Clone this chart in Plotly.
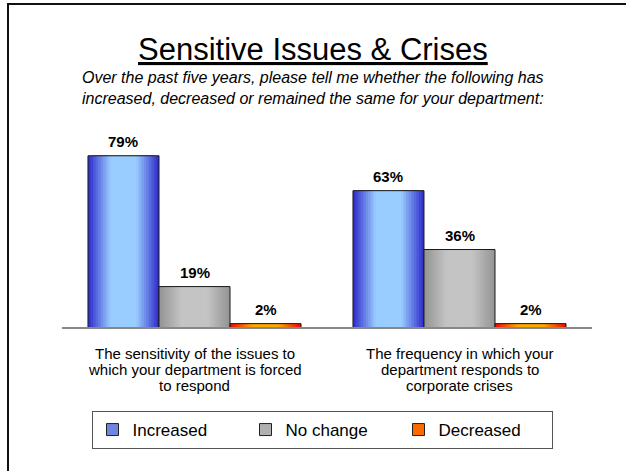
import plotly.graph_objects as go

# ---- data ----
category_lines = [
    ["The sensitivity of the issues to", "which your department is forced", "to respond"],
    ["The frequency in which your", "department responds to", "corporate crises"],
]
series_names = ["Increased", "No change", "Decreased"]
increased = [79, 63]
no_change = [19, 36]
decreased = [2, 2]
series_values = [increased, no_change, decreased]

W, H = 626, 471
FONT = "Liberation Sans, Arial, sans-serif"

# gradient colours: (edge, centre)
grad = [((0x33, 0x33, 0xcc), (0x99, 0xcc, 0xff)),
        ((0x96, 0x96, 0x96), (0xc4, 0xc4, 0xc4)),
        ((0xee, 0x10, 0x00), (0xff, 0xa8, 0x00))]
legend_col = ["#6f86e0", "#b0b0b0", "#ff6a00"]

def mix(a, b, t):
    return "rgb(%d,%d,%d)" % tuple(round(a[i] + (b[i] - a[i]) * t) for i in range(3))

bw = 0.268          # bar width in category units
n_layers = 14
fig = go.Figure()

# legend entries
for j, name in enumerate(series_names):
    fig.add_trace(go.Bar(x=[None], y=[None], name=name,
                         marker=dict(color=legend_col[j], line=dict(color="#222", width=1))))

for j, vals in enumerate(series_values):
    xs = [i + (j - 1) * bw for i in range(len(category_lines))]
    edge, centre = grad[j]
    for k in range(n_layers):
        t = min(1.0, k / (n_layers * 0.6))
        w = bw * (1 - k / n_layers)
        fig.add_trace(go.Bar(x=xs, y=vals, width=w, showlegend=False, hoverinfo="skip",
                             marker=dict(color=mix(edge, centre, t), line=dict(width=0))))
    # outline
    fig.add_trace(go.Bar(x=xs, y=vals, width=bw, showlegend=False, name=series_names[j],
                         marker=dict(color="rgba(0,0,0,0)", line=dict(color="#1a1a1a", width=1))))
    for xv, v in zip(xs, vals):
        fig.add_annotation(x=xv, y=v, text="<b>%d%%</b>" % v, showarrow=False,
                           yanchor="bottom", yshift=4,
                           font=dict(family=FONT, size=15, color="black"))

# category labels under the axis
for i, lines in enumerate(category_lines):
    for n, line in enumerate(lines):
        fig.add_annotation(x=i, y=0, text=line, showarrow=False, yanchor="middle",
                           yshift=-25 - 16 * n, font=dict(family=FONT, size=15, color="black"))

ymax = 188 / 2.18
fig.update_layout(
    width=W, height=H, barmode="overlay",
    margin=dict(l=0, r=0, t=0, b=0),
    paper_bgcolor="white", plot_bgcolor="white",
    font=dict(family=FONT, color="black"),
    xaxis=dict(domain=[62 / W, 592 / W], range=[-0.5, 1.5],
               showticklabels=False, showgrid=False, zeroline=False, showline=False,
               ticks="", fixedrange=True),
    yaxis=dict(domain=[(H - 328) / H, (H - 140) / H], range=[0, ymax],
               visible=False, fixedrange=True),
    showlegend=True,
    legend=dict(orientation="h", x=322 / W, xanchor="center", y=(H - 411) / H, yanchor="top",
                bordercolor="#555", borderwidth=1, bgcolor="white",
                font=dict(size=17, family=FONT), traceorder="normal",
                entrywidth=108, tracegroupgap=0),
)

# axis baseline
fig.add_shape(type="line", xref="paper", yref="paper",
              x0=62 / W, x1=592 / W, y0=(H - 328) / H, y1=(H - 328) / H,
              line=dict(color="#888", width=2))
# frame (top and left)
fig.add_shape(type="line", xref="paper", yref="paper", x0=7 / W, x1=1, y0=(H - 4) / H, y1=(H - 4) / H,
              line=dict(color="#111", width=2))
fig.add_shape(type="line", xref="paper", yref="paper", x0=8 / W, x1=8 / W, y0=0, y1=(H - 3) / H,
              line=dict(color="#111", width=2))

# title and subtitle
fig.add_annotation(xref="paper", yref="paper", x=313 / W, y=(H - 50) / H, yanchor="middle",
                   text="<u>Sensitive Issues &amp; Crises</u>", showarrow=False,
                   font=dict(family=FONT, size=31, color="black"))
fig.add_annotation(xref="paper", yref="paper", x=313 / W, y=(H - 88) / H, yanchor="middle",
                   text="<i>Over the past five years, please tell me whether the following has<br>"
                        "increased, decreased or remained the same for your department:</i>",
                   showarrow=False, align="center",
                   font=dict(family=FONT, size=16, color="black"))

fig.write_html("out.html")
